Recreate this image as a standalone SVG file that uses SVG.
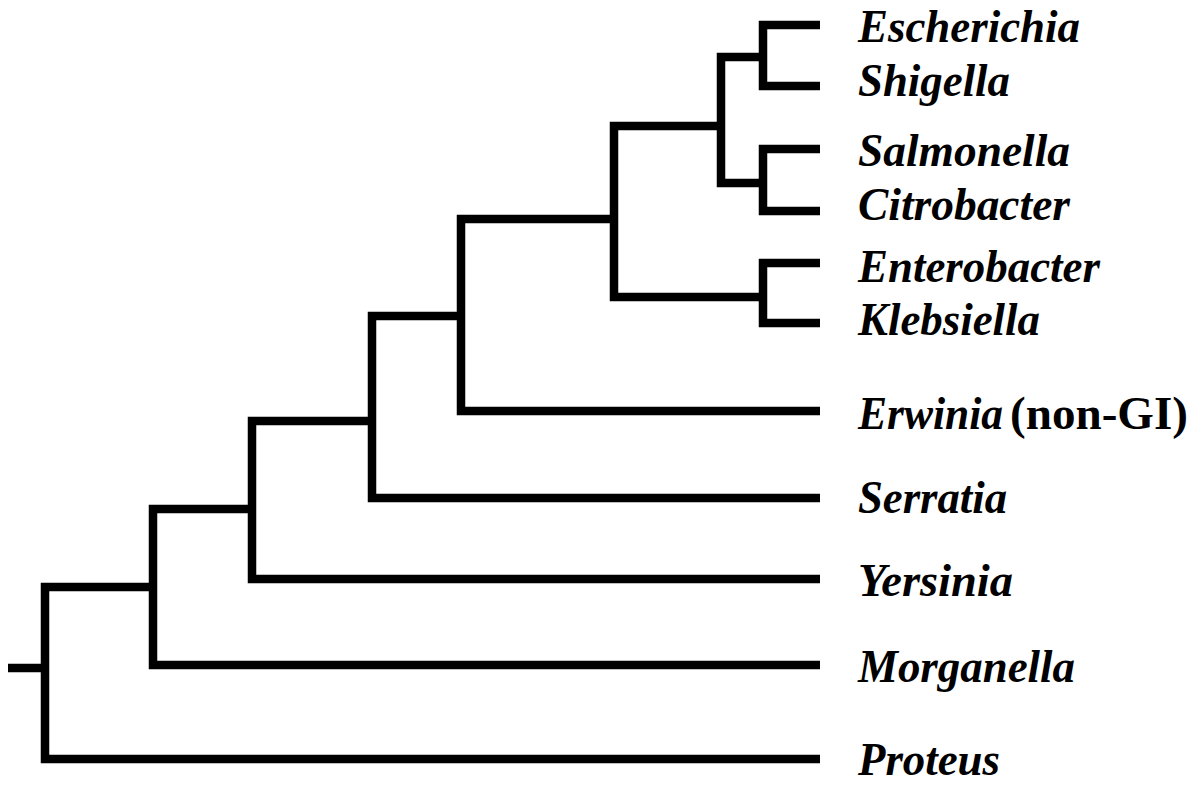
<svg xmlns="http://www.w3.org/2000/svg" width="1202" height="786" viewBox="0 0 1202 786">
<style>
.br{fill:none;stroke:#000;stroke-width:8.5;stroke-linejoin:miter;stroke-linecap:butt}
.lb{font-family:"Liberation Serif","Times New Roman",serif;font-weight:bold;font-style:italic;font-size:47px;fill:#000}
.up{font-family:"Liberation Serif","Times New Roman",serif;font-weight:bold;font-size:47px;fill:#000}
</style>
<rect width="1202" height="786" fill="#fff"/>
<g id="connectors">
<path class="br" d="M820 25 H763 V86 H820"/>
<path class="br" d="M820 149 H763 V211 H820"/>
<path class="br" d="M820 263 H763 V323 H820"/>
<path class="br" d="M763 57 H721 V183 H763"/>
<path class="br" d="M721 126 H614 V297 H763"/>
<path class="br" d="M614 219 H461 V411 H820"/>
<path class="br" d="M461 316 H372 V498 H820"/>
<path class="br" d="M372 421 H252 V579 H820"/>
<path class="br" d="M252 509 H153 V665 H820"/>
<path class="br" d="M153 587 H45 V759 H820"/>
<path class="br" d="M8 668 H49"/>
</g>
<g id="escherichia"><text class="lb" x="858" y="42" textLength="222" lengthAdjust="spacingAndGlyphs">Escherichia</text></g>
<g id="shigella"><text class="lb" x="858" y="96" textLength="152" lengthAdjust="spacingAndGlyphs">Shigella</text></g>
<g id="salmonella"><text class="lb" x="858" y="166" textLength="212" lengthAdjust="spacingAndGlyphs">Salmonella</text></g>
<g id="citrobacter"><text class="lb" x="858" y="220" textLength="212" lengthAdjust="spacingAndGlyphs">Citrobacter</text></g>
<g id="enterobacter"><text class="lb" x="858" y="282" textLength="242" lengthAdjust="spacingAndGlyphs">Enterobacter</text></g>
<g id="klebsiella"><text class="lb" x="858" y="335" textLength="182" lengthAdjust="spacingAndGlyphs">Klebsiella</text></g>
<g id="erwinia"><text class="lb" x="858" y="429" textLength="145" lengthAdjust="spacingAndGlyphs">Erwinia</text><text class="up" x="1010" y="429" textLength="178" lengthAdjust="spacingAndGlyphs">(non-GI)</text></g>
<g id="serratia"><text class="lb" x="858" y="513" textLength="149" lengthAdjust="spacingAndGlyphs">Serratia</text></g>
<g id="yersinia"><text class="lb" x="858" y="596" textLength="155" lengthAdjust="spacingAndGlyphs">Yersinia</text></g>
<g id="morganella"><text class="lb" x="858" y="682" textLength="217" lengthAdjust="spacingAndGlyphs">Morganella</text></g>
<g id="proteus"><text class="lb" x="858" y="775" textLength="142" lengthAdjust="spacingAndGlyphs">Proteus</text></g>
</svg>
